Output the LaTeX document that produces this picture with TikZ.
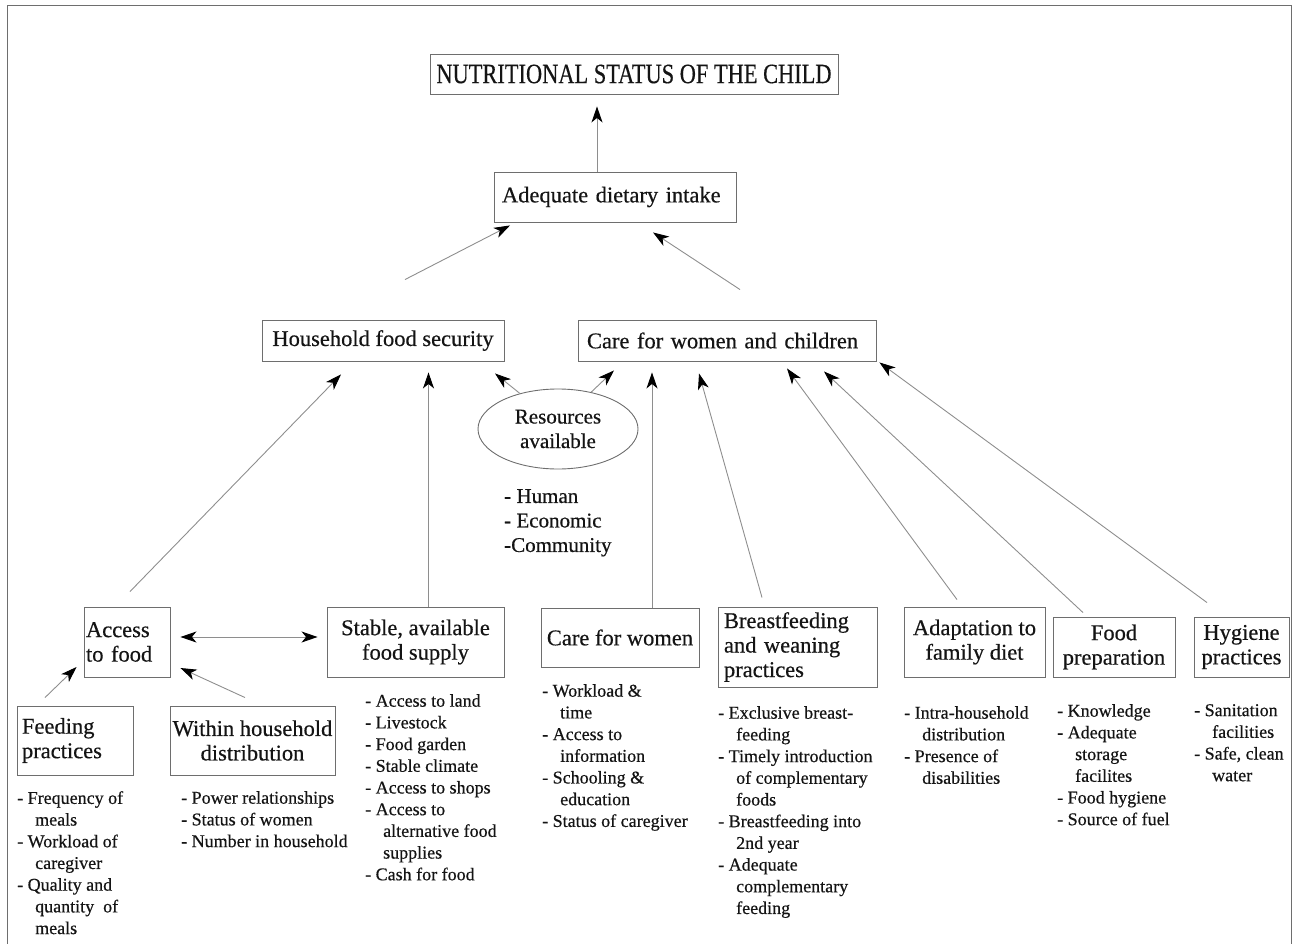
\documentclass[tikz,border=0pt]{standalone}
\usepackage{fontspec}
\setmainfont[FakeBold=0.5]{Liberation Serif}
\usetikzlibrary{arrows.meta,calc,shapes.geometric}

\definecolor{ink}{HTML}{141414}
\definecolor{edge}{HTML}{6E6E6E}
\definecolor{wire}{HTML}{8E8E8E}

% hanging indent for the continuation lines of the lists
\newcommand\hangin{\hspace*{1em}}

\begin{document}
\begin{tikzpicture}[x=1pt,y=-1pt,
  box/.style={draw=edge, line width=0.9pt, inner sep=0pt, text=ink,
    font=\fontsize{22.5}{24.5}\selectfont, align=center},
  lbox/.style={box, align=left},
  list/.style={anchor=north west, inner sep=0pt, text=ink,
    font=\fontsize{18}{21.7}\selectfont, align=left},
  tip/.tip={Stealth[length=16pt, width=11pt, inset=4.5pt, color=black]},
  conn/.style={draw=wire, line width=0.9pt, -tip},
  twoway/.style={draw=wire, line width=0.9pt, tip-tip},
]
\useasboundingbox (0,0) rectangle (1299,944);

% outer frame (open at the bottom)
\draw[edge, line width=1pt] (7,944) -- (7,6) -- (1291,6) -- (1291,944);

% ---- top levels
\node[box, minimum width=408pt, minimum height=40pt] (nut) at (634,74)
  {\scalebox{0.8}[1]{\fontsize{28}{30}\selectfont NUTRITIONAL STATUS OF THE CHILD}};
\node[lbox, minimum width=242pt, minimum height=50pt, text width=226pt, inner xsep=8pt]
  (adi) at (615,197) {\raisebox{-3pt}{Adequate dietary intake}};
\node[box, minimum width=242pt, minimum height=41pt] (hfs) at (383,340.5)
  {Household food security};
\node[lbox, minimum width=298pt, minimum height=41pt, text width=280pt, inner xsep=9pt]
  (cwc) at (727,340.5) {Care for women and children};
\node[ellipse, draw=edge, line width=0.9pt, inner sep=0pt, minimum width=160pt,
  minimum height=80pt, text=ink, align=center, font=\fontsize{21}{24.5}\selectfont]
  (res) at (558,429) {Resources\\available};
\node[list, font=\fontsize{21}{24.5}\selectfont] (resl) at (504,489)
  {- Human\\- Economic\\-Community};

% ---- underlying factors
\node[lbox, minimum width=86pt, minimum height=70pt, text width=82pt, inner xsep=2pt]
  (acc) at (127,642) {Access\\to food};
\node[box, minimum width=177pt, minimum height=70pt] (sta) at (415.5,642)
  {Stable, available\\food supply};
\node[box, minimum width=158pt, minimum height=59pt] (cfw) at (620,637.5)
  {Care for women};
\node[lbox, minimum width=159pt, minimum height=80pt, text width=147pt, inner xsep=6pt]
  (bfw) at (797.5,647) {Breastfeeding\\and weaning\\practices};
\node[box, minimum width=141pt, minimum height=70pt] (ada) at (974.5,642)
  {Adaptation to\\family diet};
\node[box, minimum width=122pt, minimum height=60pt] (fpr) at (1114,647)
  {Food\\preparation};
\node[box, minimum width=95pt, minimum height=60pt] (hyg) at (1241.5,647)
  {Hygiene\\practices};
\node[lbox, minimum width=116pt, minimum height=69pt, text width=106pt, inner xsep=5pt]
  (fee) at (75,740.5) {Feeding\\practices};
\node[box, minimum width=165pt, minimum height=69pt] (wit) at (252.5,740.5)
  {Within household\\distribution};

% ---- lists under the boxes
\node[list] (feel) at (17,791)
  {- Frequency of\\\hangin meals\\- Workload of\\\hangin caregiver\\- Quality and\\\hangin quantity\ \ of\\\hangin meals};
\node[list] (witl) at (181,791)
  {- Power relationships\\- Status of women\\- Number in household};
\node[list] (stal) at (365,694)
  {- Access to land\\- Livestock\\- Food garden\\- Stable climate\\- Access to shops\\- Access to\\\hangin alternative food\\\hangin supplies\\- Cash for food};
\node[list] (cfwl) at (542,684)
  {- Workload \&\\\hangin time\\- Access to\\\hangin information\\- Schooling \&\\\hangin education\\- Status of caregiver};
\node[list] (bfwl) at (718,706)
  {- Exclusive breast-\\\hangin feeding\\- Timely introduction\\\hangin of complementary\\\hangin foods\\- Breastfeeding into\\\hangin 2nd year\\- Adequate\\\hangin complementary\\\hangin feeding};
\node[list] (adal) at (904,706)
  {- Intra-household\\\hangin distribution\\- Presence of\\\hangin disabilities};
\node[list] (fprl) at (1057,704)
  {- Knowledge\\- Adequate\\\hangin storage\\\hangin facilites\\- Food hygiene\\- Source of fuel};
\node[list] (hygl) at (1194,704)
  {- Sanitation\\\hangin facilities\\- Safe, clean\\\hangin water};

% ---- connectors
\draw[conn] ($(adi.north)+(-18,0)$) -- ($(nut.south)+(-37,12)$);
\draw[conn] ($(hfs.north)+(22,-40)$) -- ($(adi.south)+(-105,3)$);
\draw[conn] ($(cwc.north)+(13,-30)$) -- ($(adi.south)+(38,10)$);

\draw[conn] ($(acc.north)+(3,-15)$) -- ($(hfs.south)+(-42,13)$);
\draw[conn] ($(sta.north)+(13,0)$) -- ($(hfs.south)+(45.5,11)$);
\draw[conn] (res.137) -- ($(hfs.south)+(112,12)$);
\draw[conn] (res.48) -- ($(cwc.south)+(-113,9)$);
\draw[conn] ($(cfw.north)+(32,0)$) -- ($(cwc.south)+(-75,11)$);
\draw[conn] ($(bfw.north)+(-35.5,-9)$) -- ($(cwc.south)+(-28,12)$);
\draw[conn] ($(ada.north)+(-17.5,-7)$) -- ($(cwc.south)+(60,7)$);
\draw[conn] ($(fpr.north)+(-31,-4)$) -- ($(cwc.south)+(97,10)$);
\draw[conn] ($(hyg.north)+(-34.5,-14)$) -- ($(cwc.south east)+(3,1)$);

\draw[twoway] ($(acc.east)+(10,-5)$) -- ($(sta.west)+(-9,-5)$);
\draw[conn] ($(fee.north)+(-30,-8)$) -- ($(acc.west)+(-7,25)$);
\draw[conn] ($(wit.north)+(-7.5,-8)$) -- ($(acc.east)+(10,26)$);
\end{tikzpicture}
\end{document}
